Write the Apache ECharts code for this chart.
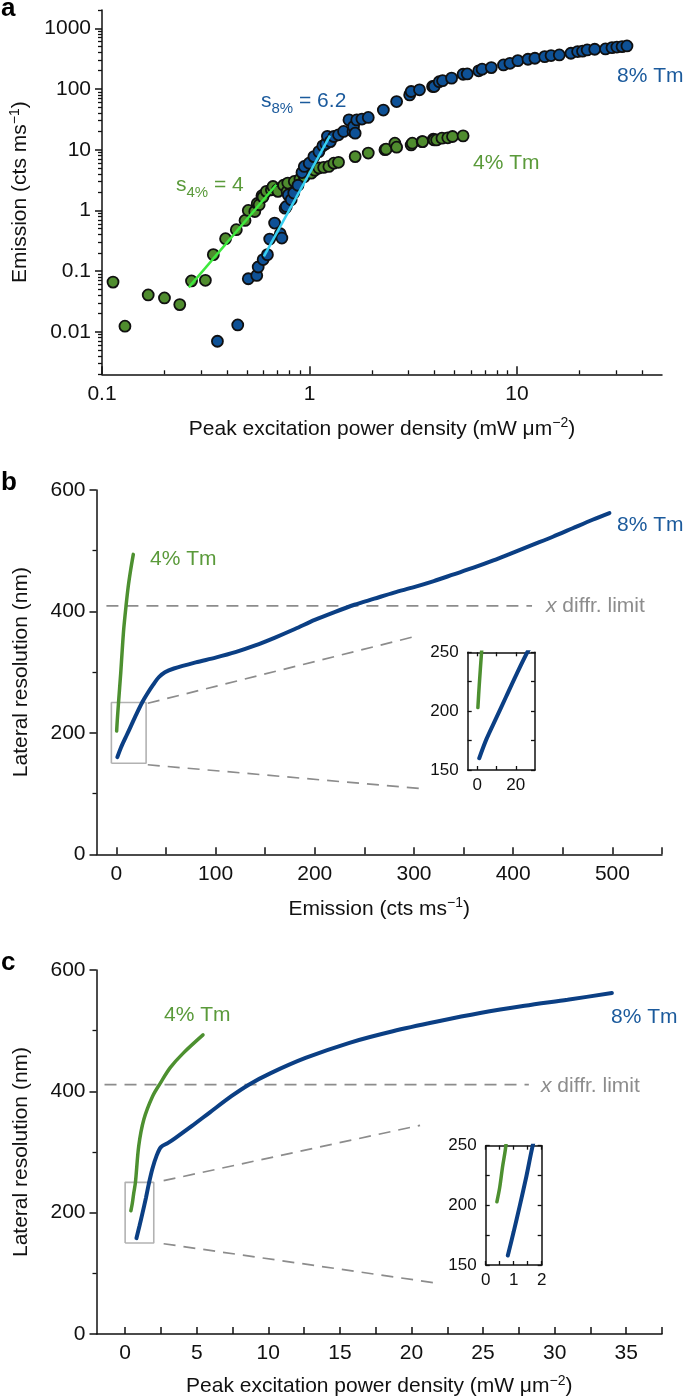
<!DOCTYPE html>
<html><head><meta charset="utf-8">
<script src="https://cdn.jsdelivr.net/npm/echarts@6/dist/echarts.min.js"></script>
<style>html,body{margin:0;padding:0;background:#fff}#c{width:685px;height:1400px}</style>
</head><body><div id="c"></div>
<script>
// ===== Panel a: [peak excitation power density (mW um^-2), emission (cts ms^-1)]
const tm4Emission = [[0.113,0.066],[0.129,0.0124],[0.167,0.0406],[0.200,0.0362],[0.237,0.0281],[0.270,0.069],[0.315,0.0706],[0.344,0.187],[0.394,0.342],[0.444,0.482],[0.489,0.685],[0.507,1.0],[0.545,0.96],[0.56,1.3],[0.572,1.24],[0.59,1.75],[0.597,1.66],[0.62,2.06],[0.655,2.19],[0.667,2.48],[0.70,2.19],[0.705,2.06],[0.75,2.6],[0.78,2.05],[0.786,2.82],[0.845,3.0],[0.9,3.3],[0.944,3.6],[1.02,4.1],[1.06,4.6],[1.11,5.0],[1.17,5.1],[1.24,5.3],[1.31,6.0],[1.38,6.2],[1.66,7.7],[1.92,8.8],[2.31,10.0],[2.34,10.2],[2.58,12.8],[2.63,11.0],[3.09,12.0],[3.13,12.8],[3.49,13.6],[3.51,13.6],[3.95,14.9],[3.99,14.5],[4.10,14.5],[4.35,15.5],[4.64,15.7],[4.89,16.5],[5.5,16.9]];
const tm8Emission = [[0.360,0.0070],[0.451,0.0130],[0.507,0.075],[0.557,0.085],[0.566,0.117],[0.598,0.155],[0.627,0.187],[0.643,0.338],[0.679,0.62],[0.723,0.413],[0.736,0.351],[0.763,1.09],[0.773,1.16],[0.79,1.8],[0.816,1.5],[0.84,1.93],[0.88,2.6],[0.92,4.2],[0.944,5.3],[0.997,6.0],[1.05,7.7],[1.11,9.3],[1.16,11.6],[1.2,12.5],[1.22,16.6],[1.26,13.6],[1.31,16.5],[1.38,17.6],[1.46,20],[1.55,31],[1.62,20],[1.63,24],[1.66,18.7],[1.69,31],[1.79,32],[1.92,34],[2.27,45],[2.63,62],[3.04,80],[3.09,91],[3.39,97],[3.92,110],[3.99,110],[4.22,132],[4.38,137],[4.84,151],[5.5,175],[5.76,177],[6.54,199],[6.79,212],[7.52,225],[8.61,249],[9.25,265],[10.1,293],[11.3,309],[12.2,321],[13.6,341],[14.6,355],[16.0,364],[18.2,388],[19.6,413],[20.7,420],[21.8,440],[23.7,451],[26.7,457],[28.7,480],[30.3,490],[32.1,499],[33.9,512]];
const tm4Fit = [[0.262,0.054],[0.692,2.65]];
const tm8Fit = [[0.603,0.175],[1.256,17.1]];
const aXLabels = [0.1,1,10];
const aXMinor = [0.2,0.3,0.4,0.5,0.6,0.7,0.8,0.9,2,3,4,5,6,7,8,9,20,30,40];
const aYLabels = [0.01,0.1,1,10,100,1000];
const aYMinor = [0.002,0.003,0.004,0.005,0.006,0.007,0.008,0.009,0.02,0.03,0.04,0.05,0.06,0.07,0.08,0.09,0.2,0.3,0.4,0.5,0.6,0.7,0.8,0.9,2,3,4,5,6,7,8,9,20,30,40,50,60,70,80,90,200,300,400,500,600,700,800,900,2000];

// ===== Panel b: [emission (cts ms^-1), lateral resolution (nm)]
const tm8ResVsEmission = [[1,160],[4.7,176],[9.8,194],[14.9,212],[20,230],[26,250],[31,264],[37,279],[43,292],[49,300],[58,306],[80,316],[100,324],[120,333],[140,344],[160,357],[180,371],[200,386],[220,399],[240,411],[260,421],[280,431],[300,440],[320,450],[340,461],[360,472],[380,484],[400,497],[420,510],[440,523],[460,537],[480,551],[497,562]];
const tm4ResVsEmission = [[0.3,203],[1,222],[2.2,250],[4.4,298],[6,338],[7.5,372],[9.7,408],[11.9,440],[14.5,469],[17.1,494]];
const bXTicks = [0,50,100,150,200,250,300,350,400,450,500,550];
const bXLabels = [0,100,200,300,400,500];
const bDiffrLimit = [[-10,409],[419,409]];
const bZoomUpper = [[31.7,248.7],[304,360]];
const bZoomLower = [[31.7,147.5],[311.5,107.5]];
const bBox = [[-5,150],[30,150],[30,250],[-5,250],[-5,150]];
const bInsetXTicks = [0,10,20];
const bInsetXLabels = [0,20];

// ===== Panel c: [peak excitation power density (mW um^-2), lateral resolution (nm)]
const tm8ResVsPower = [[0.79,158],[1.0,178],[1.22,200],[1.45,224],[1.65,247],[1.9,272],[2.2,294],[2.5,308],[3.0,315],[3.5,323],[4.67,343],[5.9,365],[7.42,392],[8.64,411],[10.17,430],[12.6,455],[15.67,480],[18.7,499],[21.8,515],[24.8,529],[27.9,541],[30.9,551],[34.0,562]];
const tm4ResVsPower = [[0.40,203],[0.5,215],[0.6,232],[0.72,250],[0.95,310],[1.31,354],[1.92,392],[2.47,414],[3.15,439],[4.06,463],[5.44,493]];
const cXTicks = [0,2.5,5,7.5,10,12.5,15,17.5,20,22.5,25,27.5,30,32.5,35,37.5];
const cXLabels = [0,5,10,15,20,25,30,35];
const cDiffrLimit = [[-1.44,411],[28.2,411]];
const cZoomUpper = [[2.69,252.7],[20.6,344]];
const cZoomLower = [[2.69,148.8],[21.5,84.8]];
const cBox = [[0,150],[2,150],[2,250],[0,250],[0,150]];
const cInsetXTicks = [0,0.5,1,1.5,2];
const cInsetXLabels = [0,1,2];

// shared resolution axes
const resLabels = [0,200,400,600];
const resMinor = [100,300,500];
const insetYTicks = [150,175,200,225,250];
const insetYLabels = [150,200,250];

const FONT = '"Liberation Sans", Arial, Helvetica, sans-serif';
const FS = 21;
const BLACK = '#111';
const GREEN_M = '#4f8c2e', BLUE_M = '#0e5196';
const GREEN_L = '#4d9030', BLUE_L = '#0b3f84';
const GREEN_T = '#5a9a3a', BLUE_T = '#1b5a9c';
const GRAY = '#8c8c8c';

const supRich = {sup:{fontSize:14, verticalAlign:'top', lineHeight:14, fontFamily:FONT, color:BLACK}};
function nameStyle(){ return {fontSize:FS, fontFamily:FONT, color:BLACK, lineHeight:25, rich:supRich}; }
function fmt(v){ return String(+(+v).toPrecision(4)); }

function mainX(grid, type, min, max, ticks, labels, tlen, name, gap){
  return {gridIndex:grid, type:type, min:min, max:max, position:'bottom',
    axisLine:{onZero:false, lineStyle:{color:BLACK,width:1.5}},
    axisTick:{show:true, inside:true, length:tlen, customValues:ticks, lineStyle:{color:BLACK,width:1.5}},
    axisLabel:{customValues:labels, formatter:fmt, margin:9, fontSize:FS, fontFamily:FONT, color:BLACK},
    splitLine:{show:false}, minorTick:{show:false},
    name:name, nameLocation:'middle', nameGap:gap, nameTextStyle:nameStyle()};
}
function minorX(grid, type, min, max, ticks, tlen){
  return {gridIndex:grid, type:type, min:min, max:max, position:'bottom',
    axisLine:{show:false, onZero:false}, axisLabel:{show:false}, splitLine:{show:false},
    axisTick:{show:true, inside:true, length:tlen, customValues:ticks, lineStyle:{color:BLACK,width:1.3}}};
}
function mainY(grid, type, min, max, ticks, labels, name, gap){
  return {gridIndex:grid, type:type, min:min, max:max, position:'left',
    axisLine:{onZero:false, lineStyle:{color:BLACK,width:1.5}},
    axisTick:{show:true, inside:false, length:7, customValues:ticks, lineStyle:{color:BLACK,width:1.5}},
    axisLabel:{customValues:labels, formatter:fmt, margin:11, fontSize:FS, fontFamily:FONT, color:BLACK},
    splitLine:{show:false},
    name:name, nameLocation:'middle', nameGap:gap, nameRotate:90, nameTextStyle:nameStyle()};
}
function minorY(grid, type, min, max, ticks){
  return {gridIndex:grid, type:type, min:min, max:max, position:'left',
    axisLine:{show:false, onZero:false}, axisLabel:{show:false}, splitLine:{show:false},
    axisTick:{show:true, inside:false, length:4, customValues:ticks, lineStyle:{color:BLACK,width:1.3}}};
}
function insetX(grid, min, max, ticks, labels, pos){
  return {gridIndex:grid, type:'value', min:min, max:max, position:pos,
    axisLine:{onZero:false, lineStyle:{color:BLACK,width:1.5}},
    axisTick:{show:true, inside:true, length:4, customValues:ticks, lineStyle:{color:BLACK,width:1.3}},
    axisLabel:{show: pos==='bottom', customValues:labels, formatter:fmt, margin:7, fontSize:17, fontFamily:FONT, color:BLACK},
    splitLine:{show:false}};
}
function insetY(grid, pos){
  return {gridIndex:grid, type:'value', min:150, max:250, position:pos,
    axisLine:{onZero:false, lineStyle:{color:BLACK,width:1.5}},
    axisTick:{show:true, inside:true, length:4, customValues:insetYTicks, lineStyle:{color:BLACK,width:1.3}},
    axisLabel:{show: pos==='left', customValues:insetYLabels, formatter:fmt, margin:9, fontSize:17, fontFamily:FONT, color:BLACK},
    splitLine:{show:false}};
}
function curve(xi, yi, data, color, w, z){
  return {type:'line', xAxisIndex:xi, yAxisIndex:yi, data:data, showSymbol:false, symbol:'none', smooth:0.3,
    lineStyle:{color:color, width:w, cap:'round'}, z:z||3, silent:true};
}
function dashed(xi, yi, data){
  return {type:'line', xAxisIndex:xi, yAxisIndex:yi, data:data, symbol:'none', clip:false,
    lineStyle:{color:GRAY, width:1.7, type:[12,8]}, z:1, silent:true};
}
function box(xi, yi, data){
  return {type:'line', xAxisIndex:xi, yAxisIndex:yi, data:data, symbol:'none', clip:false,
    lineStyle:{color:'#b2b2b2', width:1.6}, z:1, silent:true};
}
function txt(x, y, text, fill){
  return {type:'text', x:x, y:y, silent:true,
    style:{text:text, fill:fill, font:FS+'px '+FONT, align:'left', verticalAlign:'middle'}};
}
function letter(x, y, t){
  return {type:'text', x:x, y:y, silent:true, style:{text:t, fill:'#000', font:'bold 26px '+FONT, align:'left', verticalAlign:'middle'}};
}
function slopeLabel(x, y, sub, rest, color){
  return {type:'text', x:x, y:y, silent:true, style:{text:'{s|s}{sub|'+sub+'}{s|'+rest+'}', fill:color, font:FS+'px '+FONT, align:'left', verticalAlign:'middle',
    rich:{s:{fontSize:FS, fontFamily:FONT, fill:color, color:color, lineHeight:30}, sub:{fontSize:15, fontFamily:FONT, fill:color, color:color, lineHeight:15, verticalAlign:'bottom'}}}};
}
function limitLabel(x, y){
  return {type:'text', x:x, y:y, silent:true, style:{text:'{i|x} diffr. limit', fill:GRAY, font:FS+'px '+FONT, align:'left', verticalAlign:'middle',
    rich:{i:{fontStyle:'italic', fontSize:FS, fontFamily:FONT, fill:GRAY, color:GRAY}}}};
}

const option = {
  animation:false,
  backgroundColor:'#fff',
  grid:[
    {left:96.5, top:10, width:565.5, height:364.3},
    {left:96.5, top:490, width:565.5, height:364.3},
    {left:96.5, top:970, width:565.5, height:365.7},
    {left:467.7, top:652.3, width:67.3, height:117.7},
    {left:485.7, top:1145.7, width:56, height:119.3}
  ],
  xAxis:[
    mainX(0,'log',0.1,50,aXLabels,aXLabels,8,'Peak excitation power density (mW \u03bcm{sup|\u22122})',42),
    minorX(0,'log',0.1,50,aXMinor,4),
    mainX(1,'value',-20,550,bXTicks,bXLabels,7,'Emission (cts ms{sup|\u22121})',42),
    mainX(2,'value',-2,37.5,cXTicks,cXLabels,7,'Peak excitation power density (mW \u03bcm{sup|\u22122})',40),
    insetX(3,-5,30,bInsetXTicks,bInsetXLabels,'bottom'),
    insetX(3,-5,30,bInsetXTicks,bInsetXLabels,'top'),
    insetX(4,0,2,cInsetXTicks,cInsetXLabels,'bottom'),
    insetX(4,0,2,cInsetXTicks,cInsetXLabels,'top')
  ],
  yAxis:[
    mainY(0,'log',0.002,2000,aYLabels,aYLabels,'Emission (cts ms{sup|\u22121})',69),
    minorY(0,'log',0.002,2000,aYMinor),
    mainY(1,'value',0,600,resLabels,resLabels,'Lateral resolution (nm)',63),
    minorY(1,'value',0,600,resMinor),
    mainY(2,'value',0,600,resLabels,resLabels,'Lateral resolution (nm)',63),
    minorY(2,'value',0,600,resMinor),
    insetY(3,'left'), insetY(3,'right'),
    insetY(4,'left'), insetY(4,'right')
  ],
  series:[
    // panel a
    {type:'scatter', xAxisIndex:0, yAxisIndex:0, data:tm4Emission, symbol:'circle', symbolSize:11,
      itemStyle:{color:GREEN_M, borderColor:'#101010', borderWidth:1.8, opacity:1}, z:2, silent:true},
    {type:'scatter', xAxisIndex:0, yAxisIndex:0, data:tm8Emission, symbol:'circle', symbolSize:11,
      itemStyle:{color:BLUE_M, borderColor:'#101010', borderWidth:1.8, opacity:1}, z:2, silent:true},
    {type:'line', xAxisIndex:0, yAxisIndex:0, data:tm4Fit, symbol:'none', lineStyle:{color:'#3de83d', width:2.5}, z:5, silent:true},
    {type:'line', xAxisIndex:0, yAxisIndex:0, data:tm8Fit, symbol:'none', lineStyle:{color:'#38d0f2', width:2.5}, z:5, silent:true},
    // panel b
    dashed(2,2,bDiffrLimit), dashed(2,2,bZoomUpper), dashed(2,2,bZoomLower), box(2,2,bBox),
    curve(2,2,tm4ResVsEmission,GREEN_L,3.5), curve(2,2,tm8ResVsEmission,BLUE_L,4),
    curve(4,6,tm4ResVsEmission,GREEN_L,3.5), curve(4,6,tm8ResVsEmission,BLUE_L,4),
    // panel c
    dashed(3,4,cDiffrLimit), dashed(3,4,cZoomUpper), dashed(3,4,cZoomLower), box(3,4,cBox),
    curve(3,4,tm4ResVsPower,GREEN_L,3.5), curve(3,4,tm8ResVsPower,BLUE_L,4),
    curve(6,8,tm4ResVsPower,GREEN_L,3.5), curve(6,8,tm8ResVsPower,BLUE_L,4)
  ],
  graphic:[
    letter(1,9,'a'), letter(1,483,'b'), letter(1,963,'c'),
    txt(617,76,'8% Tm',BLUE_T),
    txt(473,163,'4% Tm',GREEN_T),
    slopeLabel(261,101,'8%',' = 6.2',BLUE_T),
    slopeLabel(176,185,'4%',' = 4',GREEN_T),
    txt(150,559,'4% Tm',GREEN_T),
    txt(617,525,'8% Tm',BLUE_T),
    limitLabel(546,606),
    txt(164,1015,'4% Tm',GREEN_T),
    txt(611,1017,'8% Tm',BLUE_T),
    limitLabel(541,1086)
  ]
};
const chart = echarts.init(document.getElementById('c'), null, {renderer:'canvas', width:685, height:1400});
chart.setOption(option);
</script></body></html>
